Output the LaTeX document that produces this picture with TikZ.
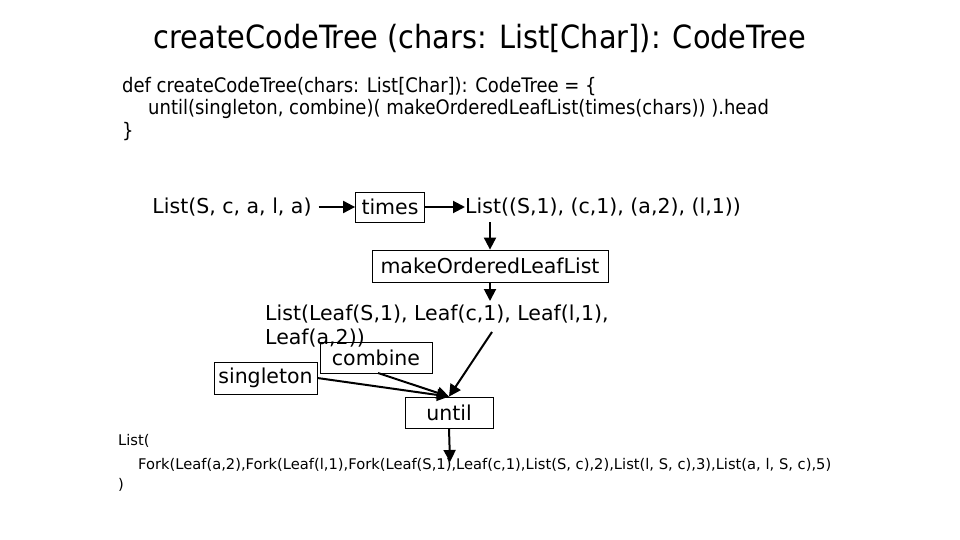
\documentclass[tikz,border=0pt]{standalone}
\usepackage{fontspec}
\setmainfont{DejaVu Sans}
\newfontfamily\cond{DejaVu Sans Condensed}
\usetikzlibrary{arrows.meta}
\begin{document}
\begin{tikzpicture}[x=1pt,y=-1pt,
  box/.style={draw,thick,inner sep=0pt,font=\fontsize{20.5}{22}\selectfont},
  txt/.style={inner sep=0pt,font=\fontsize{20.5}{22}\selectfont},
  arr/.style={line width=2pt,-{Triangle[length=12pt,width=12pt]}}]
\useasboundingbox (0,0) rectangle (960,540);
\node[inner sep=0pt,font=\cond\fontsize{32}{34}\selectfont] (title) at (480,38) {createCodeTree (chars: List[Char]): CodeTree};
\node[inner sep=0pt,anchor=north west,align=left,font=\cond\fontsize{20}{22.5}\selectfont] (code) at (122,77)
 {def createCodeTree(chars: List[Char]): CodeTree = \{\\
 \hspace*{26pt}until(singleton, combine)( makeOrderedLeafList(times(chars)) ).head\\
 \}};
\node[txt] (in) at (232,207) {List(S, c, a, l, a)};
\node[box,minimum width=69,minimum height=30] (times) at (390,207) {times};
\node[txt,anchor=west] (pairs) at (465,207) {List((S,1), (c,1), (a,2), (l,1))};
\node[box,minimum width=236,minimum height=32] (mol) at (490,266) {makeOrderedLeafList};
\node[txt,anchor=north west,align=left,font=\fontsize{20.5}{24}\selectfont] (leaves) at (265,305) {List(Leaf(S,1), Leaf(c,1), Leaf(l,1),\\Leaf(a,2))};
\node[box,minimum width=112,minimum height=31,fill=none] (comb) at (376,357.5) {combine};
\node[box,minimum width=103,minimum height=32] (single) at (265.5,378) {singleton};
\node[box,minimum width=88,minimum height=31] (until) at (449,412.5) {until};
\coordinate (res) at (450,462);
\coordinate (lf) at (492,332);
\node[inner sep=0pt,anchor=north west,align=left,font=\fontsize{14.7}{24}\selectfont] (out) at (118,434)
 {List(\\\hspace*{20pt}Fork(Leaf(a,2),Fork(Leaf(l,1),Fork(Leaf(S,1),Leaf(c,1),List(S, c),2),List(l, S, c),3),List(a, l, S, c),5)\\[-4pt])};
\draw[arr] (in.east)+(7,0) -- (times.west);
\draw[arr] (times.east) -- (pairs.west);
\draw[arr] (490,222) -- (mol.north);
\draw[arr] (mol.south) -- (490,301);
\draw[arr] (lf) -- (until.north);
\draw[arr] (378,373) -- (until.north);
\draw[arr] (single.east) -- (until.north);
\draw[arr] (until.south) -- (res);
\end{tikzpicture}
\end{document}
